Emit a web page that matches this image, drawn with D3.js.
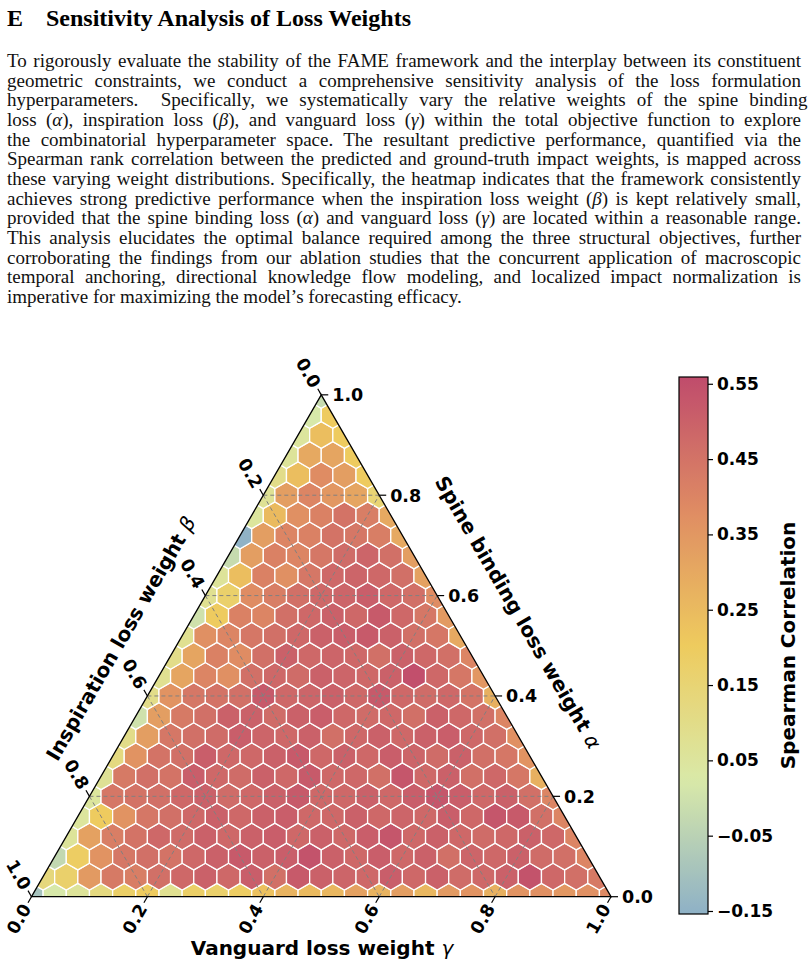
<!DOCTYPE html>
<html>
<head>
<meta charset="UTF-8" />
<title>Sensitivity Analysis of Loss Weights</title>
<script src="https://d3js.org/d3.v7.min.js"></script>
<style>
body { margin: 0px; background: white; }
</style>
</head>
<body>
<svg id="page" width="808" height="969"></svg>
<script>
// hexbin cells, one array per row, from the bottom edge (alpha = 0) to the apex (alpha = 1)
// row k has 26 - k cells, left (gamma = 0) to right
const row00 = [-0.10, 0.02, 0.06, 0.12, 0.18, 0.20, 0.08, 0.18, 0.17, 0.19, 0.23, 0.27, 0.25, 0.26, 0.32, 0.27, 0.33, 0.26, 0.34, 0.36, 0.28, 0.36, 0.37, 0.35, 0.37, 0.39];
const row01 = [0.13, 0.17, 0.34, 0.43, 0.42, 0.46, 0.48, 0.50, 0.48, 0.51, 0.46, 0.52, 0.50, 0.49, 0.48, 0.51, 0.48, 0.50, 0.47, 0.48, 0.50, 0.54, 0.48, 0.46, 0.43];
const row02 = [-0.03, 0.19, 0.36, 0.44, 0.46, 0.45, 0.48, 0.50, 0.52, 0.50, 0.51, 0.54, 0.50, 0.48, 0.51, 0.48, 0.50, 0.46, 0.49, 0.48, 0.50, 0.47, 0.46, 0.40];
const row03 = [0.06, 0.32, 0.42, 0.45, 0.48, 0.47, 0.50, 0.48, 0.50, 0.51, 0.48, 0.50, 0.48, 0.51, 0.53, 0.48, 0.50, 0.48, 0.47, 0.48, 0.50, 0.48, 0.40];
const row04 = [0.05, 0.20, 0.36, 0.44, 0.46, 0.48, 0.50, 0.48, 0.50, 0.51, 0.48, 0.48, 0.50, 0.48, 0.49, 0.48, 0.51, 0.48, 0.53, 0.52, 0.46, 0.40];
const row05 = [0.05, 0.44, 0.45, 0.46, 0.48, 0.50, 0.47, 0.48, 0.50, 0.52, 0.48, 0.48, 0.50, 0.48, 0.51, 0.53, 0.51, 0.48, 0.50, 0.46, 0.40];
const row06 = [0.07, 0.43, 0.46, 0.45, 0.51, 0.48, 0.47, 0.50, 0.48, 0.52, 0.48, 0.48, 0.46, 0.53, 0.48, 0.50, 0.46, 0.48, 0.44, 0.28];
const row07 = [0.12, 0.36, 0.45, 0.46, 0.51, 0.48, 0.48, 0.50, 0.52, 0.48, 0.50, 0.48, 0.51, 0.49, 0.47, 0.50, 0.46, 0.44, 0.36];
const row08 = [0.10, 0.33, 0.44, 0.46, 0.47, 0.51, 0.49, 0.48, 0.50, 0.46, 0.48, 0.50, 0.48, 0.50, 0.51, 0.48, 0.46, 0.37];
const row09 = [0.00, 0.33, 0.43, 0.46, 0.50, 0.50, 0.47, 0.50, 0.51, 0.48, 0.47, 0.48, 0.46, 0.50, 0.48, 0.46, 0.40];
const row10 = [0.10, 0.36, 0.44, 0.45, 0.46, 0.52, 0.48, 0.49, 0.50, 0.48, 0.52, 0.48, 0.47, 0.48, 0.45, 0.28];
const row11 = [0.08, 0.31, 0.40, 0.37, 0.46, 0.48, 0.47, 0.50, 0.49, 0.48, 0.50, 0.55, 0.48, 0.44, 0.35];
const row12 = [0.10, 0.31, 0.41, 0.38, 0.46, 0.50, 0.48, 0.49, 0.48, 0.46, 0.50, 0.48, 0.46, 0.40];
const row13 = [0.08, 0.37, 0.40, 0.44, 0.46, 0.48, 0.50, 0.51, 0.52, 0.50, 0.46, 0.44, 0.30];
const row14 = [0.00, 0.20, 0.41, 0.40, 0.46, 0.48, 0.50, 0.48, 0.52, 0.48, 0.44, 0.34];
const row15 = [0.08, 0.17, 0.38, 0.42, 0.46, 0.48, 0.49, 0.51, 0.48, 0.46, 0.38];
const row16 = [0.06, 0.24, 0.41, 0.37, 0.44, 0.48, 0.49, 0.48, 0.46, 0.32];
const row17 = [-0.02, 0.33, 0.41, 0.40, 0.44, 0.47, 0.49, 0.46, 0.33];
const row18 = [-0.15, 0.33, 0.40, 0.41, 0.45, 0.44, 0.42, 0.30];
const row19 = [0.05, 0.25, 0.37, 0.41, 0.45, 0.42, 0.30];
const row20 = [0.07, 0.33, 0.40, 0.35, 0.31, 0.15];
const row21 = [0.10, 0.24, 0.38, 0.33, 0.20];
const row22 = [0.06, 0.30, 0.31, 0.20];
const row23 = [0.05, 0.24, 0.20];
const row24 = [0.02, 0.20];
const row25 = [-0.02];
const hexRows = [row00, row01, row02, row03, row04, row05, row06, row07, row08, row09,
    row10, row11, row12, row13, row14, row15, row16, row17, row18, row19,
    row20, row21, row22, row23, row24, row25];

const ternaryTicks = [0.0, 0.2, 0.4, 0.6, 0.8, 1.0];
const cbTicks = [-0.15, -0.05, 0.05, 0.15, 0.25, 0.35, 0.45, 0.55];
const cbDomain = [-0.154, 0.559];
const cmapColors = ["#8eb1c6", "#d9e9a8", "#eecb5e", "#df8c63", "#c04c6c"];

const heading = ["E", "Sensitivity Analysis of Loss Weights"];
const bodyLines = [
    "To rigorously evaluate the stability of the FAME framework and the interplay between its constituent",
    "geometric constraints, we conduct a comprehensive sensitivity analysis of the loss formulation",
    "hyperparameters.\u00a0 Specifically, we systematically vary the relative weights of the spine binding",
    "loss (α), inspiration loss (β), and vanguard loss (γ) within the total objective function to explore",
    "the combinatorial hyperparameter space. The resultant predictive performance, quantified via the",
    "Spearman rank correlation between the predicted and ground-truth impact weights, is mapped across",
    "these varying weight distributions. Specifically, the heatmap indicates that the framework consistently",
    "achieves strong predictive performance when the inspiration loss weight (β) is kept relatively small,",
    "provided that the spine binding loss (α) and vanguard loss (γ) are located within a reasonable range.",
    "This analysis elucidates the optimal balance required among the three structural objectives, further",
    "corroborating the findings from our ablation studies that the concurrent application of macroscopic",
    "temporal anchoring, directional knowledge flow modeling, and localized impact normalization is",
    "imperative for maximizing the model\u2019s forecasting efficacy."
];

let svg = d3.select("#page");

// ---- text block ----
let serif = "'Liberation Serif', 'Times New Roman', serif";
svg.append("text").attr("x", 7).attr("y", 26)
    .attr("font-family", serif).attr("font-weight", "bold").attr("font-size", 24)
    .text(heading[0]);
svg.append("text").attr("x", 46).attr("y", 26)
    .attr("font-family", serif).attr("font-weight", "bold").attr("font-size", 24)
    .text(heading[1]);

let addRich = (sel, str) => {
    // greek letters as math italic
    let parts = str.split(/([αβγ])/);
    for (let p of parts) {
        if (p === "") continue;
        let t = sel.append("tspan").text(p);
        if ("αβγ".includes(p)) t.attr("font-style", "italic");
    }
};

let lineWidth = 794;
bodyLines.forEach((line, i) => {
    let t = svg.append("text")
        .attr("x", 7).attr("y", 67 + i * 19.67)
        .attr("font-family", serif).attr("font-size", 19)
        .attr("fill", "#111");
    addRich(t, line);
    if (i < bodyLines.length - 1) {
        // justify by stretching the spaces only
        let w = t.node().getComputedTextLength();
        let spaces = (line.match(/ /g) || []).length;
        t.attr("word-spacing", (lineWidth - w) / spaces);
    }
});

// ---- ternary geometry ----
const N = 25;
const L = 579.5, X0 = 31.5, Y0 = 896.7;
const H = Math.sqrt(3) / 2;
let x = d3.scaleLinear().domain([0, 1]).range([X0, X0 + L]);
let y = d3.scaleLinear().domain([0, H]).range([Y0, Y0 - L * H]);
// a = alpha (apex), b = beta (bottom-left), g = gamma (bottom-right)
let pt = (a, b, g) => [x(g + a / 2), y(a * H)];

let color = d3.scaleLinear()
    .domain(d3.range(cmapColors.length).map(i => cbDomain[0] + i * (cbDomain[1] - cbDomain[0]) / (cmapColors.length - 1)))
    .range(cmapColors)
    .interpolate(d3.interpolateRgb)
    .clamp(true);

let defs = svg.append("defs");
let triPts = [pt(1, 0, 0), pt(0, 1, 0), pt(0, 0, 1)];
defs.append("clipPath").attr("id", "triClip")
    .append("polygon").attr("points", triPts.map(p => p.join(",")).join(" "));

// hexagons (pointy top)
let sx = x(1 / N) - x(0);
let r = sx / Math.sqrt(3);
let hexPath = (cx, cy) => {
    let v = [[0, -r], [sx / 2, -r / 2], [sx / 2, r / 2], [0, r], [-sx / 2, r / 2], [-sx / 2, -r / 2]];
    return "M" + v.map(d => (cx + d[0]) + "," + (cy + d[1])).join("L") + "Z";
};

let cells = [];
hexRows.forEach((row, k) => {
    row.forEach((v, j) => {
        let a = k / N, g = j / N;
        cells.push({a: a, g: g, b: 1 - a - g, v: v});
    });
});

let hexG = svg.append("g").attr("clip-path", "url(#triClip)");
hexG.selectAll("path").data(cells).join("path")
    .attr("d", d => { let p = pt(d.a, d.b, d.g); return hexPath(p[0], p[1]); })
    .attr("fill", d => color(d.v))
    .attr("stroke", "white")
    .attr("stroke-width", 1.3);

// dashed grid
let gridVals = ternaryTicks.filter(v => v > 0 && v < 1);
let gridG = svg.append("g").attr("stroke", "#808080").attr("stroke-width", 1)
    .attr("stroke-dasharray", "4,3").attr("fill", "none");
for (let v of gridVals) {
    let segs = [
        [pt(v, 1 - v, 0), pt(v, 0, 1 - v)],
        [pt(1 - v, v, 0), pt(0, v, 1 - v)],
        [pt(0, 1 - v, v), pt(1 - v, 0, v)]
    ];
    for (let s of segs) {
        gridG.append("line").attr("x1", s[0][0]).attr("y1", s[0][1])
            .attr("x2", s[1][0]).attr("y2", s[1][1]);
    }
}

// triangle outline
svg.append("polygon").attr("points", triPts.map(p => p.join(",")).join(" "))
    .attr("fill", "none").attr("stroke", "black").attr("stroke-width", 1.3);

// ticks
let sans = "'DejaVu Sans', sans-serif";
let tickG = svg.append("g").attr("font-family", sans).attr("font-weight", "bold").attr("font-size", 17.5);
let c60 = 0.5, s60 = Math.sqrt(3) / 2;
for (let v of ternaryTicks) {
    let lab = v.toFixed(1);
    // alpha, right edge
    let p = pt(v, 0, 1 - v);
    tickG.append("line").attr("x1", p[0]).attr("y1", p[1]).attr("x2", p[0] + 7).attr("y2", p[1])
        .attr("stroke", "black").attr("stroke-width", 1.2);
    tickG.append("text").attr("x", p[0] + 11).attr("y", p[1]).attr("dy", "0.36em").text(lab);
    // beta, left edge
    p = pt(1 - v, v, 0);
    let d = [-c60, -s60];
    tickG.append("line").attr("x1", p[0]).attr("y1", p[1]).attr("x2", p[0] + 7 * d[0]).attr("y2", p[1] + 7 * d[1])
        .attr("stroke", "black").attr("stroke-width", 1.2);
    let q = [p[0] + 10 * d[0], p[1] + 10 * d[1]];
    tickG.append("text").attr("transform", `translate(${q[0]},${q[1]}) rotate(60)`)
        .attr("text-anchor", "end").attr("dy", "0.36em").text(lab);
    // gamma, bottom edge
    p = pt(0, 1 - v, v);
    d = [-c60, s60];
    tickG.append("line").attr("x1", p[0]).attr("y1", p[1]).attr("x2", p[0] + 7 * d[0]).attr("y2", p[1] + 7 * d[1])
        .attr("stroke", "black").attr("stroke-width", 1.2);
    q = [p[0] + 10 * d[0], p[1] + 10 * d[1]];
    tickG.append("text").attr("transform", `translate(${q[0]},${q[1]}) rotate(-60)`)
        .attr("text-anchor", "end").attr("dy", "0.36em").text(lab);
}

// axis labels
let axisLabel = (txt, greek, cx, cy, rot) => {
    let t = svg.append("text")
        .attr("transform", `translate(${cx},${cy}) rotate(${rot})`)
        .attr("text-anchor", "middle")
        .attr("font-family", sans).attr("font-weight", "bold").attr("font-size", 20);
    t.append("tspan").text(txt + " ");
    t.append("tspan").attr("font-weight", "normal").attr("font-style", "italic").text(greek);
};
axisLabel("Vanguard loss weight", "γ", 322, 955, 0);
axisLabel("Inspiration loss weight", "β", 127, 642, -60);
axisLabel("Spine binding loss weight", "α", 512, 616, 60);

// ---- colorbar ----
let cbX = 679, cbW = 29, cbTop = 377, cbBot = 914;
let cy = d3.scaleLinear().domain(cbDomain).range([cbBot, cbTop]);
let grad = defs.append("linearGradient").attr("id", "cbGrad")
    .attr("x1", 0).attr("y1", 1).attr("x2", 0).attr("y2", 0);
d3.range(0, 1.0001, 0.02).forEach(t => {
    grad.append("stop").attr("offset", t)
        .attr("stop-color", color(cbDomain[0] + t * (cbDomain[1] - cbDomain[0])));
});
svg.append("rect").attr("x", cbX).attr("y", cbTop).attr("width", cbW).attr("height", cbBot - cbTop)
    .attr("fill", "url(#cbGrad)").attr("stroke", "black").attr("stroke-width", 1.2);
let cbAxis = d3.axisRight(cy).tickValues(cbTicks).tickSize(5).tickPadding(4)
    .tickFormat(v => d3.format(".2f")(v).replace("-", "\u2212"));
let cbG = svg.append("g").attr("transform", `translate(${cbX + cbW},0)`).call(cbAxis);
cbG.select(".domain").remove();
cbG.selectAll(".tick line").attr("stroke", "black").attr("stroke-width", 1.2);
cbG.selectAll(".tick text").attr("font-family", sans).attr("font-weight", "bold")
    .attr("font-size", 17).attr("fill", "black");
svg.append("text")
    .attr("transform", `translate(795,${(cbTop + cbBot) / 2}) rotate(-90)`)
    .attr("text-anchor", "middle")
    .attr("font-family", sans).attr("font-weight", "bold").attr("font-size", 20)
    .text("Spearman Correlation");
</script>
</body>
</html>
